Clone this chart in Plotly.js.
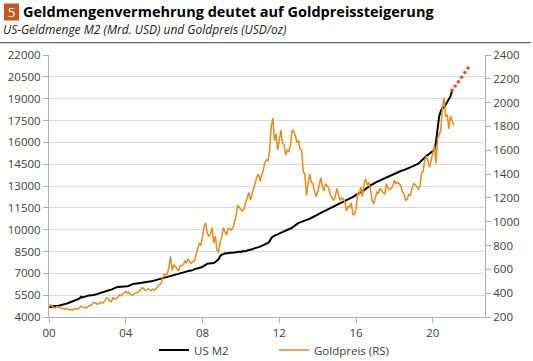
<!DOCTYPE html>
<html><head><meta charset="utf-8">
<script src="https://cdn.plot.ly/plotly-3.0.1.min.js"></script>
<style>html,body{margin:0;padding:0;background:#fff}#chart{width:533px;height:361px}</style>
</head><body><div id="chart"></div>
<script>
// Monthly observations, January 2000 onwards
const startYear = 2000;
const m2Values = [
 4660,4670,4700,4750,4740,4760,4780,4800,4830,4850,4870,4920,
 4960,5000,5050,5120,5130,5170,5210,5260,5390,5340,5380,5430,
 5450,5470,5470,5480,5510,5540,5580,5620,5640,5670,5710,5770,
 5800,5830,5850,5880,5940,5980,6030,6060,6060,6060,6060,6060,
 6080,6110,6150,6200,6270,6290,6290,6310,6340,6360,6390,6410,
 6410,6420,6440,6440,6450,6480,6510,6540,6570,6600,6630,6670,
 6700,6730,6740,6770,6780,6810,6830,6860,6890,6930,6980,7020,
 7050,7080,7110,7150,7180,7190,7220,7290,7310,7350,7380,7400,
 7450,7540,7630,7660,7670,7680,7700,7710,7780,7870,7960,8190,
 8290,8310,8380,8370,8420,8420,8410,8400,8430,8450,8480,8490,
 8460,8530,8520,8510,8570,8580,8600,8650,8700,8750,8780,8800,
 8840,8890,8930,8980,9030,9090,9200,9420,9520,9600,9640,9680,
 9760,9800,9830,9870,9920,9970,10030,10080,10140,10220,10320,10430,
 10470,10500,10550,10560,10620,10660,10710,10750,10800,10870,10930,10980,
 11040,11110,11160,11220,11240,11290,11340,11390,11440,11500,11560,11620,
 11680,11770,11810,11870,11910,11970,12030,12080,12130,12200,12260,12310,
 12390,12450,12510,12590,12660,12710,12800,12860,12950,13040,13130,13170,
 13230,13280,13330,13380,13430,13500,13560,13620,13660,13710,13770,13800,
 13850,13900,13960,14020,14030,14060,14100,14140,14200,14210,14260,14330,
 14390,14460,14490,14530,14620,14760,14870,14960,15060,15150,15250,15320,
 15420,15480,16020,17000,17800,18150,18350,18400,18600,18800,19000,19150,
 19550
];
const goldValues = [
 285,305,288,278,275,288,282,274,273,270,266,272,
 266,260,263,258,272,270,268,276,290,283,276,275,
 282,296,294,305,320,321,310,310,322,317,319,340,
 360,355,335,328,362,352,351,365,385,379,392,410,
 415,402,410,390,384,392,398,405,410,425,445,442,
 424,428,436,430,420,435,424,440,460,472,480,515,
 560,555,560,620,710,590,640,625,600,586,630,630,
 640,670,655,685,667,650,665,670,725,770,820,800,
 900,960,990,900,880,900,950,820,880,760,740,830,
 870,950,920,885,940,940,930,950,1000,1050,1140,1120,
 1100,1090,1110,1160,1210,1245,1180,1230,1290,1350,1380,1400,
 1340,1390,1430,1500,1520,1510,1600,1800,1870,1680,1740,1600,
 1690,1770,1660,1650,1560,1600,1590,1640,1770,1760,1720,1670,
 1680,1610,1600,1420,1400,1220,1320,1400,1330,1320,1260,1210,
 1250,1330,1370,1290,1260,1320,1300,1280,1220,1200,1180,1210,
 1280,1220,1180,1200,1190,1170,1090,1130,1120,1160,1060,1060,
 1110,1240,1230,1290,1210,1320,1360,1310,1330,1270,1180,1150,
 1200,1250,1240,1280,1260,1240,1230,1320,1280,1270,1280,1300,
 1350,1320,1330,1320,1300,1250,1230,1180,1190,1230,1220,1280,
 1320,1310,1295,1275,1300,1410,1420,1520,1550,1500,1460,1515,
 1580,1640,1490,1700,1730,1770,1960,2040,1880,1900,1780,1890,
 1850,1810
];
const projectionDates = ['2021-01-01','2021-03-01','2021-05-01','2021-07-01','2021-09-01','2021-11-01'];
const projectionValues = [19580,19870,20170,20470,20790,21110];
const xTickVals = ['2000-01-01','2004-01-01','2008-01-01','2012-01-01','2016-01-01','2020-01-01'];
const xTickText = ['00','04','08','12','16','20'];
const seriesNames = ['US M2','Goldpreis (RS)'];

function monthDates(n){
  const out=[];
  for(let i=0;i<n;i++){
    const y=startYear+Math.floor(i/12), m=(i%12)+1;
    out.push(y+'-'+String(m).padStart(2,'0')+'-01');
  }
  return out;
}

const W=533, H=361, ML=49, MR=48, MT=55, MB=44;
const PW=W-ML-MR, PH=H-MT-MB;
const px = v => (v-ML)/PW;          // container x pixel -> paper
const py = v => (H-MB-v)/PH;        // container y pixel -> paper

const axisFont = {family:'Open Sans, sans-serif', size:11.5, color:'#404040'};
const traces = [
  {x:monthDates(m2Values.length), y:m2Values, name:seriesNames[0], type:'scatter', mode:'lines',
   line:{color:'#000000', width:2}, yaxis:'y', hoverinfo:'skip'},
  {x:monthDates(goldValues.length), y:goldValues, name:seriesNames[1], type:'scatter', mode:'lines',
   line:{color:'#E68B1C', width:1.5}, yaxis:'y2', hoverinfo:'skip'},
  {x:projectionDates, y:projectionValues, name:'Projektion', type:'scatter', mode:'markers',
   marker:{color:'#F04E23', size:3.5}, yaxis:'y', showlegend:false, hoverinfo:'skip'}
];

const layout = {
  width:W, height:H,
  margin:{l:ML, r:MR, t:MT, b:MB, autoexpand:false},
  paper_bgcolor:'#ffffff', plot_bgcolor:'#ffffff',
  font:axisFont,
  showlegend:true,
  legend:{orientation:'h', x:154/W, xanchor:'left', xref:'container', y:1-350/H, yanchor:'middle', yref:'container',
          font:{family:'Open Sans, sans-serif', size:11.5, color:'#404040'},
          itemwidth:30, entrywidth:75, traceorder:'normal', bgcolor:'rgba(0,0,0,0)'},
  xaxis:{type:'date', range:['2000-01-01','2022-09-20'], tickvals:xTickVals, ticktext:xTickText, automargin:false,
         showgrid:false, showline:true, linecolor:'#b0b0b0', linewidth:1, ticks:'outside',
         ticklen:5, tickcolor:'#b0b0b0', zeroline:false, tickfont:axisFont},
  yaxis:{range:[4000,22000], dtick:1500, tick0:4000, tickformat:'d', showgrid:true, gridcolor:'#d9d9d9', automargin:false,
         gridwidth:1, showline:true, linecolor:'#b0b0b0', ticks:'outside', ticklen:5, tickcolor:'#b0b0b0',
         zeroline:false, tickfont:axisFont},
  yaxis2:{range:[200,2400], dtick:200, tick0:200, tickformat:'d', overlaying:'y', side:'right', automargin:false,
          showgrid:false, showline:true, linecolor:'#b0b0b0', ticks:'outside', ticklen:5,
          tickcolor:'#b0b0b0', zeroline:false, tickfont:axisFont},
  shapes:[
    {type:'line', xref:'paper', yref:'paper', x0:px(0), x1:px(531), y0:py(42.7), y1:py(42.7),
     line:{color:'#444444', width:1}},
    {type:'rect', xref:'paper', yref:'paper', x0:px(4), x1:px(19), y0:py(3.5), y1:py(20.5),
     line:{width:0}, fillcolor:'#C8561E'}
  ],
  annotations:[
    {xref:'paper', yref:'paper', x:px(11.5), y:py(12), xanchor:'center', yanchor:'middle',
     text:'5', showarrow:false,
     font:{family:'Open Sans, sans-serif', size:13, color:'#ffffff'}},
    {xref:'paper', yref:'paper', x:px(21), y:py(12), xanchor:'left', yanchor:'middle',
     text:'<b>Geldmengenvermehrung deutet auf Goldpreissteigerung</b>', showarrow:false,
     font:{family:'Open Sans, sans-serif', size:14.5, color:'#000000'}},
    {xref:'paper', yref:'paper', x:px(1), y:py(29.5), xanchor:'left', yanchor:'middle',
     text:'<i>US-Geldmenge M2 (Mrd. USD) und Goldpreis (USD/oz)</i>', showarrow:false,
     font:{family:'Open Sans, sans-serif', size:12, color:'#202020'}}
  ]
};
Plotly.newPlot('chart', traces, layout, {staticPlot:true, displayModeBar:false});
</script>
</body></html>
